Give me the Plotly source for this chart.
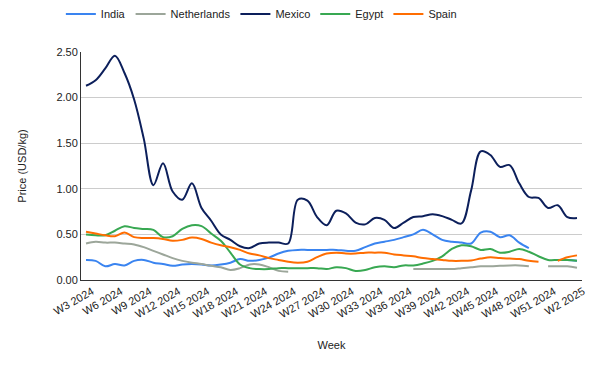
import plotly.graph_objects as go

weeks = [f"W{w} 2024" for w in range(3, 53)] + ["W1 2025", "W2 2025"]

india = [0.22, 0.21, 0.15, 0.175, 0.16, 0.21, 0.22, 0.19, 0.175, 0.155,
         0.17, 0.175, 0.17, 0.16, 0.17, 0.19, 0.23, 0.21, 0.22, 0.245,
         0.29, 0.32, 0.33, 0.33, 0.33, 0.33, 0.33, 0.32, 0.32, 0.36,
         0.40, 0.42, 0.44, 0.47, 0.50, 0.55, 0.50, 0.44, 0.42, 0.41,
         0.40, 0.52, 0.53, 0.47, 0.49, 0.41, 0.35, None, None, 0.22,
         0.22, 0.21]

netherlands = [0.40, 0.42, 0.41, 0.41, 0.40, 0.39, 0.36, 0.32, 0.28, 0.24,
               0.21, 0.19, 0.175, 0.155, 0.14, 0.11, 0.13, 0.17, 0.17, 0.14,
               0.10, 0.09, None, None, None, None, None, None, None, None,
               None, None, None, None, 0.12, 0.12, 0.12, 0.12, 0.12, 0.13,
               0.14, 0.15, 0.15, 0.155, 0.16, 0.16, 0.15, None, 0.15, 0.15,
               0.15, 0.135]

mexico = [2.13, 2.19, 2.32, 2.46, 2.27, 1.98, 1.55, 1.04, 1.28, 0.97,
          0.88, 1.06, 0.79, 0.65, 0.50, 0.44, 0.37, 0.35, 0.40, 0.41,
          0.41, 0.40, 0.88, 0.87, 0.69, 0.60, 0.76, 0.73, 0.63, 0.61,
          0.68, 0.66, 0.57, 0.63, 0.69, 0.70, 0.72, 0.70, 0.66, 0.62,
          0.98, 1.41, 1.37, 1.24, 1.26, 1.06, 0.91, 0.90, 0.79, 0.82,
          0.69, 0.68]

egypt = [0.50, 0.49, 0.49, 0.54, 0.59, 0.57, 0.56, 0.55, 0.47, 0.48,
         0.56, 0.60, 0.59, 0.51, 0.43, 0.30, 0.17, 0.13, 0.12, 0.12,
         0.13, 0.13, 0.13, 0.13, 0.13, 0.12, 0.14, 0.13, 0.10, 0.11,
         0.14, 0.15, 0.14, 0.16, 0.16, 0.18, 0.21, 0.26, 0.34, 0.38,
         0.37, 0.33, 0.34, 0.30, 0.31, 0.34, 0.31, 0.26, 0.22, 0.22,
         0.22, 0.21]

spain = [0.53, 0.51, 0.49, 0.48, 0.52, 0.47, 0.46, 0.46, 0.45, 0.43,
         0.44, 0.465, 0.45, 0.41, 0.38, 0.36, 0.33, 0.29, 0.27, 0.24,
         0.22, 0.20, 0.19, 0.20, 0.25, 0.29, 0.30, 0.29, 0.29, 0.30,
         0.30, 0.30, 0.28, 0.27, 0.26, 0.24, 0.23, 0.22, 0.21, 0.21,
         0.215, 0.235, 0.25, 0.24, 0.235, 0.23, 0.21, 0.20, None, 0.21,
         0.25, 0.27]

series = [
    ("India", india, "#3a84f0"),
    ("Netherlands", netherlands, "#9ca69a"),
    ("Mexico", mexico, "#0c1f5b"),
    ("Egypt", egypt, "#38a852"),
    ("Spain", spain, "#ff6d01"),
]

tick_weeks = weeks[::3]

fig = go.Figure()
for name, vals, color in series:
    fig.add_trace(go.Scatter(
        x=weeks, y=vals, name=name, mode="lines",
        line=dict(color=color, width=2, shape="spline", smoothing=1),
        connectgaps=False,
    ))

fig.update_layout(
    width=600, height=371,
    margin=dict(l=73, r=26, t=44, b=99, autoexpand=False),
    paper_bgcolor="white", plot_bgcolor="white",
    font=dict(family="Arial, Liberation Sans, sans-serif", size=11, color="#222222"),
    showlegend=True,
    legend=dict(orientation="h", x=0.36, xanchor="center", y=1.167, yanchor="middle",
                font=dict(size=11, color="#222222"), itemwidth=30,
                tracegroupgap=0, bgcolor="rgba(0,0,0,0)"),
    xaxis=dict(
        type="category", categoryorder="array", categoryarray=weeks,
        range=[-0.52, 51.52],
        tickmode="array", tickvals=tick_weeks, ticktext=tick_weeks,
        tickangle=-30, showgrid=False, showline=True, linecolor="#333333",
        linewidth=1, ticks="", automargin=False, ticklabelshift=6,
        title=dict(text="Week", font=dict(size=11), standoff=22),
        tickfont=dict(size=11, color="#222222"),
    ),
    yaxis=dict(
        range=[0, 2.5], tickvals=[0, 0.5, 1.0, 1.5, 2.0, 2.5], tickformat=".2f",
        showgrid=True, gridcolor="#cccccc", gridwidth=1,
        showline=True, linecolor="#333333", linewidth=1, zeroline=False,
        ticks="", automargin=False,
        title=dict(text="Price (USD/kg)", font=dict(size=11), standoff=27),
        tickfont=dict(size=11, color="#222222"),
    ),
)

fig.write_html("out.html")
